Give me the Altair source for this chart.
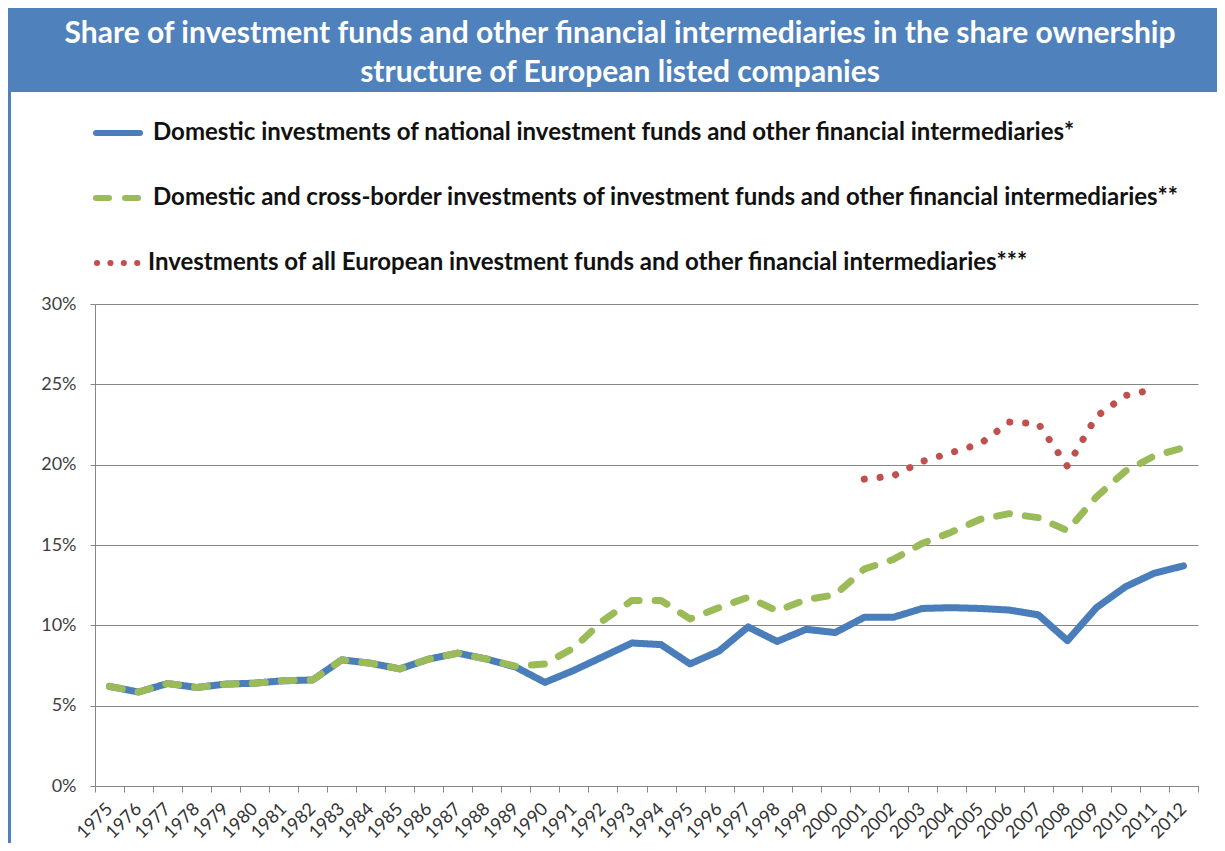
import altair as alt
import pandas as pd

years = [str(y) for y in range(1975, 2013)]

domestic = [6.2, 5.85, 6.38, 6.13, 6.34, 6.4, 6.55, 6.6, 7.85, 7.64,
            7.29, 7.9, 8.27, 7.9, 7.4, 6.45, 7.2, 8.05, 8.9, 8.8,
            7.6, 8.4, 9.9, 9.0, 9.75, 9.55, 10.5, 10.5, 11.05, 11.1,
            11.05, 10.95, 10.65, 9.05, 11.1, 12.4, 13.25, 13.7]

cross_border = [6.2, 5.85, 6.38, 6.13, 6.34, 6.4, 6.55, 6.6, 7.85, 7.64,
                7.29, 7.9, 8.27, 7.9, 7.45, 7.6, 8.6, 10.3, 11.55, 11.55,
                10.4, 11.1, 11.75, 10.9, 11.6, 11.9, 13.5, 14.1, 15.1, 15.8,
                16.6, 16.95, 16.7, 15.9, 18.0, 19.6, 20.55, 21.05]

european_years = [str(y) for y in range(2001, 2012)]
european = [19.1, 19.3, 20.2, 20.75, 21.3, 22.65, 22.55, 19.9, 23.0, 24.3, 24.7]

series_keys = ["s1", "s2", "s3"]
series_labels = [
    "Domestic investments of national  investment funds and other financial intermediaries*",
    "Domestic and cross-border investments of investment funds and other financial intermediaries**",
    "Investments of all European investment funds  and other financial intermediaries***",
]
series_colors = ["#4A7EBB", "#9BBB59", "#C0504D"]
series_dash = [[1, 0], [13, 16], [0.1, 15.8]]
legend_dash = [[1, 0], [13, 16], [0.1, 13.3]]

title_lines = [
    "Share of investment funds and other financial intermediaries in the share ownership",
    "structure of European listed companies",
]

y_ticks = [0, 5, 10, 15, 20, 25, 30]

rows = []
for y, v in zip(years, domestic):
    rows.append({"year": y, "value": v, "series": "s1"})
for y, v in zip(years, cross_border):
    rows.append({"year": y, "value": v, "series": "s2"})
for y, v in zip(european_years, european):
    rows.append({"year": y, "value": v, "series": "s3"})
df = pd.DataFrame(rows)

FONT = "Lato"
GRAY = "#868686"

main = alt.Chart(df).mark_line(strokeCap="round", strokeJoin="round", strokeWidth=7).encode(
    x=alt.X(
        "year:O",
        bandPosition=0.5,
        sort=years,
        scale=alt.Scale(type="band", paddingInner=0, paddingOuter=0, domain=years),
        axis=alt.Axis(
            title=None, tickBand="extent", labelAngle=-45, labelAlign="right",
            labelBaseline="middle", labelPadding=14, tickSize=6, labelFontSize=18,
            labelColor="#333333", labelFont=FONT, domainColor=GRAY, tickColor=GRAY,
            grid=False, labelOverlap=False,
        ),
    ),
    y=alt.Y(
        "value:Q",
        scale=alt.Scale(domain=[0, 30], nice=False),
        axis=alt.Axis(
            title=None, values=y_ticks, labelExpr="datum.value + '%'", orient="left",
            grid=True, gridColor=GRAY, gridWidth=1, domainColor=GRAY, tickColor=GRAY,
            tickSize=5, labelPadding=14, labelFontSize=18, labelFont=FONT,
            labelColor="#404040",
        ),
    ),
    color=alt.Color("series:N", scale=alt.Scale(domain=series_keys, range=series_colors), legend=None),
    strokeDash=alt.StrokeDash("series:N", scale=alt.Scale(domain=series_keys, range=series_dash), legend=None),
    order=alt.Order("year:O"),
)

one = pd.DataFrame({"k": [0]})

header = alt.Chart(one).mark_rect(color="#4F81BD").encode(
    x=alt.value(-87), x2=alt.value(1122), y=alt.value(-296), y2=alt.value(-212)
)
border = alt.Chart(one).mark_rect(color="#4F81BD").encode(
    x=alt.value(-87), x2=alt.value(-84), y=alt.value(-214), y2=alt.value(539)
)
title1 = alt.Chart(one).mark_text(
    text=title_lines[0], font=FONT, fontSize=30, fontWeight="bold", color="white",
    align="center", baseline="middle",
).encode(x=alt.value(525), y=alt.value(-270))
title2 = alt.Chart(one).mark_text(
    text=title_lines[1], font=FONT, fontSize=30, fontWeight="bold", color="white",
    align="center", baseline="middle",
).encode(x=alt.value(525), y=alt.value(-231))

legend_scale = alt.Scale(domain=[0, 2], range=[-171, -41], nice=False, zero=False)
legend_sym_x = [(1, 45), (1, 45), (2, 44)]
legend_txt_x = [58, 58, 53]
legend_widths = [6, 6, 6]

layers = [header, border, title1, title2]
for i in range(3):
    ldf = pd.DataFrame({"idx": [i], "label": [series_labels[i]]})
    sym = alt.Chart(ldf).mark_rule(
        color=series_colors[i], strokeWidth=legend_widths[i], strokeCap="round",
        strokeDash=legend_dash[i],
    ).encode(
        y=alt.Y("idx:Q", scale=legend_scale, axis=None),
        x=alt.value(legend_sym_x[i][0]), x2=alt.value(legend_sym_x[i][1]),
    )
    txt = alt.Chart(ldf).mark_text(
        align="left", baseline="middle", font=FONT, fontSize=24, fontWeight="bold",
        color="#111111",
    ).encode(
        y=alt.Y("idx:Q", scale=legend_scale, axis=None),
        x=alt.value(legend_txt_x[i]),
        text="label:N",
    )
    layers += [sym, txt]

layers.append(main)

chart = alt.layer(*layers).resolve_scale(y="independent").properties(
    width=1103, height=482, padding=0
).configure_view(stroke=None)

chart.save("out.html", embed_options={"renderer": "svg", "actions": False})
